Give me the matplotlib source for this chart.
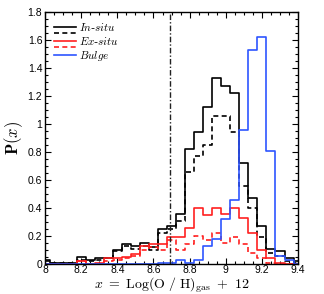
import numpy as np
import matplotlib
matplotlib.use("Agg")
import matplotlib.pyplot as plt
from matplotlib.ticker import MultipleLocator
from matplotlib.lines import Line2D

plt.rcParams['mathtext.fontset'] = 'cm'

# bin centres of the metallicity histograms
centers = [8.00, 8.05, 8.10, 8.15, 8.20, 8.25, 8.30, 8.35, 8.40, 8.45,
           8.50, 8.55, 8.60, 8.65, 8.70, 8.75, 8.80, 8.85, 8.90, 8.95,
           9.00, 9.05, 9.10, 9.15, 9.20, 9.25, 9.30, 9.35, 9.40]

insitu = [0.03, 0.01, 0.01, 0.01, 0.05, 0.03, 0.04, 0.04, 0.10, 0.14,
          0.13, 0.15, 0.12, 0.25, 0.27, 0.36, 0.82, 0.94, 1.12, 1.33,
          1.27, 1.22, 0.72, 0.47, 0.27, 0.11, 0.09, 0.04, 0.02]

insitu_dash = [0.02, 0.01, 0.01, 0.01, 0.03, 0.02, 0.03, 0.04, 0.09, 0.13,
               0.11, 0.13, 0.10, 0.22, 0.25, 0.31, 0.66, 0.77, 0.85, 1.06,
               1.06, 0.94, 0.56, 0.40, 0.19, 0.08, 0.06, 0.02, 0.01]

exsitu = [0.0, 0.0, 0.0, 0.0, 0.02, 0.0, 0.01, 0.04, 0.04, 0.05,
          0.07, 0.13, 0.14, 0.14, 0.19, 0.19, 0.26, 0.40, 0.35, 0.40,
          0.36, 0.40, 0.33, 0.22, 0.10, 0.04, 0.01, 0.0, 0.0]

exsitu_dash = [0.0, 0.0, 0.0, 0.0, 0.02, 0.0, 0.0, 0.02, 0.03, 0.04,
               0.06, 0.10, 0.12, 0.10, 0.17, 0.10, 0.14, 0.20, 0.17, 0.22,
               0.15, 0.19, 0.14, 0.08, 0.04, 0.01, 0.0, 0.0, 0.0]

bulge = [0.0, 0.0, 0.0, 0.0, 0.0, 0.0, 0.0, 0.0, 0.0, 0.0,
         0.0, 0.0, 0.0, 0.01, 0.01, 0.03, 0.01, 0.03, 0.13, 0.18,
         0.32, 0.46, 0.96, 1.53, 1.62, 0.81, 0.06, 0.03, 0.0]

vline_x = 8.69
legend_labels = ['In', 'situ', 'Ex', 'situ', 'Bulge']

RED = '#ff2020'
BLUE = '#2e55ff'

fig = plt.figure(figsize=(3.24, 2.94), dpi=100)
ax = fig.add_axes([0.139, 0.102, 0.781, 0.857])

lw = 1.2
dash = (0, (3, 2))
ax.step(centers, insitu, where='mid', color='black', lw=lw)
ax.step(centers, insitu_dash, where='mid', color='black', lw=lw, ls=dash)
ax.step(centers, exsitu, where='mid', color=RED, lw=lw)
ax.step(centers, exsitu_dash, where='mid', color=RED, lw=lw, ls=dash)
ax.step(centers, bulge, where='mid', color=BLUE, lw=lw)
ax.axvline(vline_x, color='#222222', lw=1.0, ls=(0, (4, 1.5, 1, 1.5)))

ax.set_xlim(8.0, 9.4)
ax.set_ylim(0, 1.8)
ax.xaxis.set_major_locator(MultipleLocator(0.2))
ax.xaxis.set_minor_locator(MultipleLocator(0.05))
ax.yaxis.set_major_locator(MultipleLocator(0.2))
ax.yaxis.set_minor_locator(MultipleLocator(0.05))
fmt = matplotlib.ticker.FuncFormatter(lambda v, p: ('%.1f' % v).rstrip('0').rstrip('.'))
ax.xaxis.set_major_formatter(fmt)
ax.yaxis.set_major_formatter(fmt)
ax.tick_params(which='both', direction='in', top=True, right=True, width=0.8,
               labelsize=7.5, pad=2)
ax.tick_params(axis='x', which='both', pad=1)
ax.tick_params(which='major', length=4)
ax.tick_params(which='minor', length=2)
for lab in ax.get_xticklabels() + ax.get_yticklabels():
    lab.set_fontfamily('Liberation Sans')
for s in ax.spines.values():
    s.set_linewidth(1.0)

ax.set_xlabel(r'$x\ =\ \mathrm{Log(O\ /\ H)_{gas}\ +\ 12}$', fontsize=10)
ax.xaxis.set_label_coords(0.5, -0.048)
ax.set_ylabel(r'$\mathbf{P}(x)$', fontsize=12, labelpad=2)

handles = [Line2D([], [], color='black', lw=lw),
           Line2D([], [], color='black', lw=lw, ls=dash),
           Line2D([], [], color=RED, lw=lw),
           Line2D([], [], color=RED, lw=lw, ls=dash),
           Line2D([], [], color=BLUE, lw=lw)]
labels = [r'$\mathit{%s}$-$\mathit{%s}$' % (legend_labels[0], legend_labels[1]), ' ',
          r'$\mathit{%s}$-$\mathit{%s}$' % (legend_labels[2], legend_labels[3]), ' ',
          r'$\mathit{%s}$' % legend_labels[4]]
ax.legend(handles, labels, loc='upper left', frameon=False, fontsize=8,
          handlelength=2.0, labelspacing=-0.35, handletextpad=0.3,
          borderaxespad=0.4, bbox_to_anchor=(0.0, 1.0))

fig.savefig('out.png', dpi=100)
